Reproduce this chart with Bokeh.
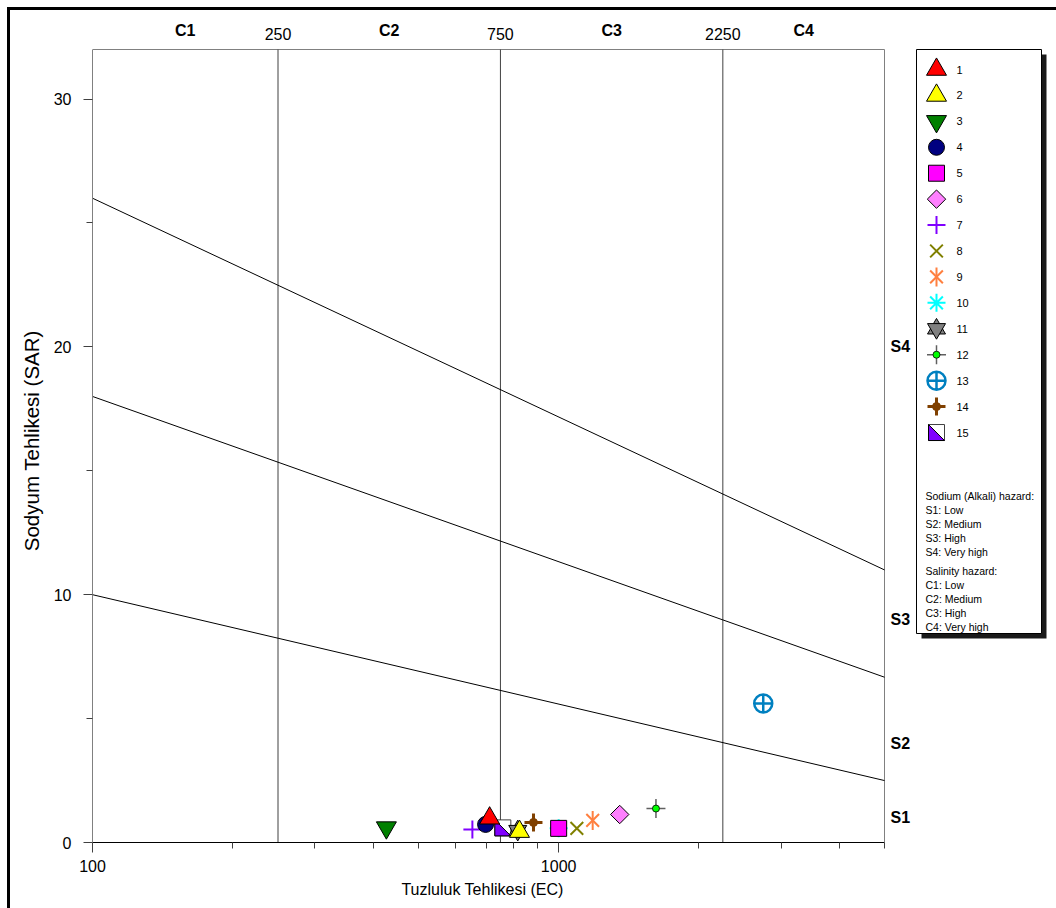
import math

from bokeh.core.properties import value
from bokeh.embed import file_html
from bokeh.layouts import row
from bokeh.models import FixedTicker, Range1d
from bokeh.plotting import figure
from bokeh.resources import INLINE

# ---------------------------------------------------------------- data
sample_ids = ["1", "2", "3", "4", "5", "6", "7", "8", "9", "10",
              "11", "12", "13", "14", "15"]
ec_values = [711, 824, 427, 697, 1000, 1352, 653, 1094, 1183, 1000,
             817, 1617, 2747, 883, 759]
sar_values = [0.98, 0.44, 0.60, 0.73, 0.57, 1.13, 0.52, 0.57, 0.89, 0.57,
              0.48, 1.37, 5.61, 0.81, 0.59]

# salinity class limits (EC) and class names
salinity_bounds = [250, 750, 2250]
salinity_classes = ["C1", "C2", "C3", "C4"]
# sodium class limits: SAR at EC = 100 and at EC = 5000
sodium_line_sar_low = [10, 18, 26]
sodium_line_sar_high = [2.5, 6.67, 11]
sodium_classes = ["S1", "S2", "S3", "S4"]
sodium_label_sar = [1.0, 4.0, 9.0, 20.0]

ec_min, ec_max = 100, 5000
sar_min, sar_max = 0, 32

x_major_ticks = [100, 1000]
x_minor_ticks = [200, 300, 400, 500, 600, 700, 800, 900, 2000, 3000, 4000, 5000]
y_major_ticks = [0, 10, 20, 30]
y_minor_ticks = [5, 15, 25]

sodium_notes = ["Sodium (Alkali) hazard:", "S1: Low", "S2: Medium", "S3: High", "S4: Very high"]
salinity_notes = ["Salinity hazard:", "C1: Low", "C2: Medium", "C3: High", "C4: Very high"]

x_title = "Tuzluluk Tehlikesi (EC)"
y_title = "Sodyum Tehlikesi (SAR)"

FONT = "Liberation Sans"
PI = math.pi
NBSP = "\u00a0"

# marker layers for each sample (drawn on top of each other)
STYLES = [
    [dict(marker="triangle", size=20, fill_color="#ff0000", line_color="#000000")],
    [dict(marker="triangle", size=20, fill_color="#ffff00", line_color="#000000")],
    [dict(marker="inverted_triangle", size=20, fill_color="#008000", line_color="#000000")],
    [dict(marker="circle", size=16, fill_color="#000080", line_color="#000000")],
    [dict(marker="square", size=16, fill_color="#ff00ff", line_color="#000000")],
    [dict(marker="square", size=13, angle=PI / 4, fill_color="#ff80ff", line_color="#000000")],
    [dict(marker="cross", size=18, line_color="#8000ff", line_width=2)],
    [dict(marker="x", size=18, line_color="#808000", line_width=2)],
    [dict(marker="x", size=18, line_color="#ff8040", line_width=2),
     dict(marker="dash", size=19, angle=PI / 2, line_color="#ff8040", line_width=2)],
    [dict(marker="asterisk", size=18, line_color="#00ffff", line_width=2)],
    [dict(marker="triangle", size=18, fill_color="#808080", line_color="#000000"),
     dict(marker="inverted_triangle", size=18, fill_color="#808080", line_color="#000000")],
    [dict(marker="cross", size=19, line_color="#606060", line_width=1.5),
     dict(marker="circle", size=7, fill_color="#00ff00", line_color="#000000", line_width=0.8)],
    [dict(marker="circle_cross", size=18, fill_color=None, line_color="#0080c0", line_width=2.5)],
    [dict(marker="cross", size=18, line_color="#804000", line_width=3),
     dict(marker="circle", size=8, fill_color="#804000", line_color="#804000")],
    "half_square",
]
HALF = 8  # half side of the split square marker, px

# ---------------------------------------------------------------- main chart
FIG_W, FIG_H = 902, 898
BORDER_L, BORDER_B = 82, 66
FRAME_W, FRAME_H = 792, 793          # drawing area of the diagram itself
px_per_decade = FRAME_W / (math.log10(ec_max) - math.log10(ec_min))
px_per_sar = FRAME_H / (sar_max - sar_min)

# the frame runs on past the diagram so that class names fit inside it
x_end = 10 ** (math.log10(ec_min) + (FIG_W - BORDER_L) / px_per_decade)
y_end = (FIG_H - BORDER_B) / px_per_sar

p = figure(width=FIG_W, height=FIG_H, x_axis_type="log",
           x_range=Range1d(ec_min, x_end), y_range=Range1d(sar_min, y_end),
           output_backend="svg", toolbar_location=None,
           min_border_left=BORDER_L, min_border_right=0,
           min_border_top=0, min_border_bottom=BORDER_B)
p.background_fill_color = "white"
p.border_fill_color = "white"
p.outline_line_color = None
p.grid.visible = False

xa = p.xaxis[0]
xa.ticker = FixedTicker(ticks=x_major_ticks, minor_ticks=x_minor_ticks)
xa.major_label_overrides = {t: str(t) for t in x_major_ticks}
xa.bounds = (ec_min, ec_max)
xa.axis_line_color = "#000000"
xa.major_tick_line_color = "#404040"
xa.minor_tick_line_color = "#404040"
xa.major_tick_out = 10
xa.major_tick_in = 0
xa.minor_tick_out = 6
xa.minor_tick_in = 0
xa.major_label_standoff = 7
xa.major_label_text_font = FONT
xa.major_label_text_font_size = "16px"
xa.major_label_text_color = "#000000"
# axis titles are centred under the diagram, not the whole frame
xa.axis_label = x_title + NBSP * 9
xa.axis_label_text_font = FONT
xa.axis_label_text_font_size = "16px"
xa.axis_label_text_font_style = "normal"
xa.axis_label_text_color = "#000000"
xa.axis_label_standoff = 6

ya = p.yaxis[0]
ya.ticker = FixedTicker(ticks=y_major_ticks, minor_ticks=y_minor_ticks)
ya.bounds = (sar_min, sar_max)
ya.axis_line_color = "#808080"
ya.major_tick_line_color = "#404040"
ya.minor_tick_line_color = "#404040"
ya.major_tick_out = 9
ya.major_tick_in = 0
ya.minor_tick_out = 6
ya.minor_tick_in = 0
ya.major_label_standoff = 12
ya.major_label_orientation = "horizontal"
ya.major_label_text_font = FONT
ya.major_label_text_font_size = "16px"
ya.major_label_text_color = "#000000"
ya.axis_label = y_title + NBSP * 5
ya.axis_label_text_font = FONT
ya.axis_label_text_font_size = "20.5px"
ya.axis_label_text_font_style = "normal"
ya.axis_label_text_color = "#000000"
ya.axis_label_standoff = 8

# outline of the diagram (top and right edges)
p.segment(x0=[ec_min, ec_max], y0=[sar_max, sar_min], x1=[ec_max, ec_max], y1=[sar_max, sar_max],
          line_color="#808080", line_width=1)
# salinity class limits
p.segment(x0=salinity_bounds, y0=[sar_min] * 3, x1=salinity_bounds, y1=[sar_max] * 3,
          line_color="#404040", line_width=1)
# sodium class limits
p.segment(x0=[ec_min] * 3, y0=sodium_line_sar_low, x1=[ec_max] * 3, y1=sodium_line_sar_high,
          line_color="#000000", line_width=1)

# class names above and to the right of the diagram
edges = [ec_min] + salinity_bounds + [ec_max]
class_mid = [math.sqrt(edges[i] * edges[i + 1]) for i in range(len(salinity_classes))]
p.text(x=class_mid, y=[sar_max + 19 / px_per_sar] * len(class_mid), text=salinity_classes,
       text_font=value(FONT), text_font_size="16px", text_font_style="bold",
       text_align="center", text_baseline="middle", text_color="#000000")
p.text(x=salinity_bounds, y=[sar_max + 16 / px_per_sar] * len(salinity_bounds),
       text=[str(b) for b in salinity_bounds],
       text_font=value(FONT), text_font_size="16px",
       text_align="center", text_baseline="middle", text_color="#000000")
s_x = ec_max * 10 ** (6 / px_per_decade)
p.text(x=[s_x] * len(sodium_classes), y=sodium_label_sar, text=sodium_classes,
       text_font=value(FONT), text_font_size="16px", text_font_style="bold",
       text_align="left", text_baseline="middle", text_color="#000000")


def draw_main(style, x, y):
    if style == "half_square":
        f = 10 ** (HALF / px_per_decade)
        d = HALF / px_per_sar
        p.scatter([x], [y], marker="square", size=2 * HALF,
                  fill_color="white", line_color="#404040", line_width=1)
        p.patch([x / f, x / f, x * f], [y + d, y - d, y - d],
                fill_color="#8000ff", line_color="#000000", line_width=1)
        return
    for layer in style:
        kw = dict(layer)
        kw.setdefault("line_width", 1)
        kw.setdefault("fill_color", None)
        p.scatter([x], [y], **kw)


# later samples underneath, sample 1 on top
for i in reversed(range(len(sample_ids))):
    draw_main(STYLES[i], ec_values[i], sar_values[i])

# ---------------------------------------------------------------- legend panel
LW = 144
LH = FIG_H - BORDER_B     # same frame height as the diagram panel
leg = figure(width=LW, height=FIG_H, x_range=Range1d(0, LW), y_range=Range1d(LH, 0),
             output_backend="svg", toolbar_location=None,
             min_border_left=0, min_border_right=0,
             min_border_top=0, min_border_bottom=BORDER_B)
leg.axis.visible = False
leg.grid.visible = False
leg.outline_line_color = None
leg.background_fill_color = "white"
leg.border_fill_color = "white"

box_l, box_r, box_t, box_b = 4, 129, 39, 623
leg.quad(left=box_l + 5, right=box_r + 5, top=box_t + 5, bottom=box_b + 5,
         fill_color="#1a1a1a", line_color=None)
leg.quad(left=box_l, right=box_r, top=box_t, bottom=box_b,
         fill_color="white", line_color="#000000", line_width=1)

row_x, row_y0, row_step = 24, 59, 25.93
for i, sid in enumerate(sample_ids):
    yy = row_y0 + row_step * i
    style = STYLES[i]
    if style == "half_square":
        leg.scatter([row_x], [yy], marker="square", size=2 * HALF,
                    fill_color="white", line_color="#404040", line_width=1)
        leg.patch([row_x - HALF, row_x - HALF, row_x + HALF],
                  [yy - HALF, yy + HALF, yy + HALF],
                  fill_color="#8000ff", line_color="#000000", line_width=1)
    else:
        for layer in style:
            kw = dict(layer)
            kw.setdefault("line_width", 1)
            kw.setdefault("fill_color", None)
            leg.scatter([row_x], [yy], **kw)

leg.text(x=[row_x + 20] * len(sample_ids),
         y=[row_y0 + row_step * i for i in range(len(sample_ids))],
         text=sample_ids, text_font=value(FONT), text_font_size="11px",
         text_baseline="middle", text_align="left", text_color="#000000")

note_x = 13
leg.text(x=[note_x] * len(sodium_notes),
         y=[485 + 14 * i for i in range(len(sodium_notes))],
         text=sodium_notes, text_font=value(FONT), text_font_size="10.5px",
         text_baseline="middle", text_align="left", text_color="#000000")
leg.text(x=[note_x] * len(salinity_notes),
         y=[560 + 14 * i for i in range(len(salinity_notes))],
         text=salinity_notes, text_font=value(FONT), text_font_size="10.5px",
         text_baseline="middle", text_align="left", text_color="#000000")

layout = row(p, leg, margin=(7, 0, 0, 7),
             styles={"border-left": "3px solid #000000",
                     "border-top": "3px solid #000000"})

with open("out.html", "w") as fh:
    fh.write(file_html(layout, INLINE))
